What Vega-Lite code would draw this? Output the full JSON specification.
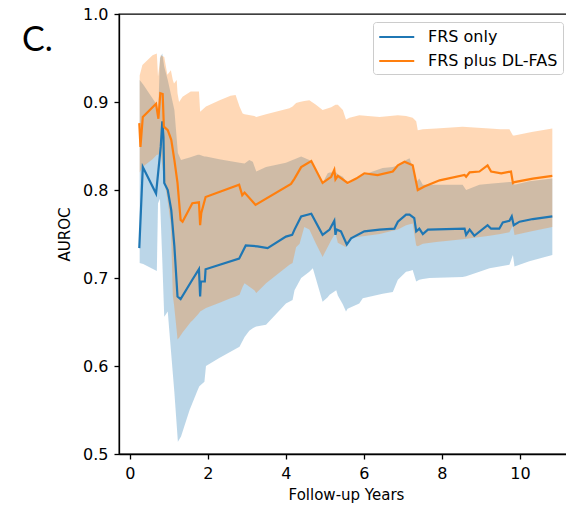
{
  "$schema": "https://vega.github.io/schema/vega-lite/v6.json",
  "width": 454,
  "height": 440,
  "autosize": {"type": "none"},
  "padding": {"left": 119, "top": 14, "right": 0, "bottom": 55},
  "background": "white",
  "config": {
    "font": "DejaVu Sans",
    "view": {"stroke": "black", "strokeWidth": 1.3},
    "axis": {
      "grid": false,
      "domainColor": "black",
      "domainWidth": 1.3,
      "tickColor": "black",
      "tickWidth": 1.3,
      "tickSize": 5,
      "labelColor": "black",
      "titleColor": "black",
      "labelFontSize": 16,
      "titleFontSize": 15,
      "titleFontWeight": "normal"
    }
  },
  "title": {
    "text": "C.",
    "anchor": "start",
    "frame": "group",
    "font": "Lato",
    "fontSize": 34,
    "fontWeight": "normal",
    "color": "black",
    "dx": -97,
    "dy": 52,
    "offset": 0
  },
  "resolve": {"legend": {"color": "independent"}},
  "datasets": {
    "bands": [
      {"s": "FRS only", "x": 0.25, "lo": 0.717, "hi": 0.925},
      {"s": "FRS only", "x": 0.34, "lo": 0.716, "hi": 0.92},
      {"s": "FRS only", "x": 0.69, "lo": 0.708, "hi": 0.897},
      {"s": "FRS only", "x": 0.72, "lo": 0.785, "hi": 0.88},
      {"s": "FRS only", "x": 0.77, "lo": 0.79, "hi": 0.95},
      {"s": "FRS only", "x": 0.83, "lo": 0.72, "hi": 0.955},
      {"s": "FRS only", "x": 0.88, "lo": 0.656, "hi": 0.94},
      {"s": "FRS only", "x": 0.97, "lo": 0.662, "hi": 0.925},
      {"s": "FRS only", "x": 1.01, "lo": 0.64, "hi": 0.917},
      {"s": "FRS only", "x": 1.14, "lo": 0.57, "hi": 0.891},
      {"s": "FRS only", "x": 1.23, "lo": 0.514, "hi": 0.842},
      {"s": "FRS only", "x": 1.31, "lo": 0.52, "hi": 0.834},
      {"s": "FRS only", "x": 1.53, "lo": 0.55, "hi": 0.837},
      {"s": "FRS only", "x": 1.74, "lo": 0.573, "hi": 0.84},
      {"s": "FRS only", "x": 1.78, "lo": 0.577, "hi": 0.84},
      {"s": "FRS only", "x": 1.91, "lo": 0.582, "hi": 0.838},
      {"s": "FRS only", "x": 1.95, "lo": 0.6, "hi": 0.838},
      {"s": "FRS only", "x": 2.29, "lo": 0.609, "hi": 0.835},
      {"s": "FRS only", "x": 2.81, "lo": 0.622, "hi": 0.831},
      {"s": "FRS only", "x": 2.94, "lo": 0.633, "hi": 0.83},
      {"s": "FRS only", "x": 3.06, "lo": 0.64, "hi": 0.834},
      {"s": "FRS only", "x": 3.15, "lo": 0.643, "hi": 0.832},
      {"s": "FRS only", "x": 3.24, "lo": 0.645, "hi": 0.821},
      {"s": "FRS only", "x": 3.49, "lo": 0.647, "hi": 0.826},
      {"s": "FRS only", "x": 4.0, "lo": 0.671, "hi": 0.831},
      {"s": "FRS only", "x": 4.17, "lo": 0.675, "hi": 0.834},
      {"s": "FRS only", "x": 4.22, "lo": 0.686, "hi": 0.835},
      {"s": "FRS only", "x": 4.39, "lo": 0.7, "hi": 0.838},
      {"s": "FRS only", "x": 4.6, "lo": 0.707, "hi": 0.834},
      {"s": "FRS only", "x": 4.69, "lo": 0.711, "hi": 0.83},
      {"s": "FRS only", "x": 4.94, "lo": 0.673, "hi": 0.808},
      {"s": "FRS only", "x": 5.07, "lo": 0.678, "hi": 0.819},
      {"s": "FRS only", "x": 5.12, "lo": 0.681, "hi": 0.82},
      {"s": "FRS only", "x": 5.29, "lo": 0.686, "hi": 0.82},
      {"s": "FRS only", "x": 5.33, "lo": 0.68, "hi": 0.818},
      {"s": "FRS only", "x": 5.46, "lo": 0.67, "hi": 0.815},
      {"s": "FRS only", "x": 5.54, "lo": 0.662, "hi": 0.81},
      {"s": "FRS only", "x": 5.58, "lo": 0.665, "hi": 0.806},
      {"s": "FRS only", "x": 5.88, "lo": 0.671, "hi": 0.815},
      {"s": "FRS only", "x": 5.97, "lo": 0.677, "hi": 0.817},
      {"s": "FRS only", "x": 6.48, "lo": 0.682, "hi": 0.825},
      {"s": "FRS only", "x": 6.74, "lo": 0.684, "hi": 0.826},
      {"s": "FRS only", "x": 6.87, "lo": 0.698, "hi": 0.828},
      {"s": "FRS only", "x": 7.08, "lo": 0.707, "hi": 0.834},
      {"s": "FRS only", "x": 7.17, "lo": 0.708, "hi": 0.836},
      {"s": "FRS only", "x": 7.25, "lo": 0.709, "hi": 0.826},
      {"s": "FRS only", "x": 7.34, "lo": 0.696, "hi": 0.809},
      {"s": "FRS only", "x": 7.42, "lo": 0.698, "hi": 0.813},
      {"s": "FRS only", "x": 7.51, "lo": 0.699, "hi": 0.806},
      {"s": "FRS only", "x": 7.68, "lo": 0.7, "hi": 0.806},
      {"s": "FRS only", "x": 8.53, "lo": 0.701, "hi": 0.806},
      {"s": "FRS only", "x": 8.62, "lo": 0.702, "hi": 0.8},
      {"s": "FRS only", "x": 8.96, "lo": 0.707, "hi": 0.806},
      {"s": "FRS only", "x": 9.22, "lo": 0.711, "hi": 0.807},
      {"s": "FRS only", "x": 9.73, "lo": 0.715, "hi": 0.809},
      {"s": "FRS only", "x": 9.82, "lo": 0.726, "hi": 0.809},
      {"s": "FRS only", "x": 9.86, "lo": 0.713, "hi": 0.806},
      {"s": "FRS only", "x": 10.24, "lo": 0.719, "hi": 0.81},
      {"s": "FRS only", "x": 10.83, "lo": 0.726, "hi": 0.813},
      {"s": "FRS plus DL-FAS", "x": 0.25, "lo": 0.82, "hi": 0.93},
      {"s": "FRS plus DL-FAS", "x": 0.32, "lo": 0.826, "hi": 0.942},
      {"s": "FRS plus DL-FAS", "x": 0.58, "lo": 0.835, "hi": 0.953},
      {"s": "FRS plus DL-FAS", "x": 0.69, "lo": 0.84, "hi": 0.955},
      {"s": "FRS plus DL-FAS", "x": 0.72, "lo": 0.84, "hi": 0.929},
      {"s": "FRS plus DL-FAS", "x": 0.79, "lo": 0.842, "hi": 0.953},
      {"s": "FRS plus DL-FAS", "x": 0.88, "lo": 0.81, "hi": 0.951},
      {"s": "FRS plus DL-FAS", "x": 0.96, "lo": 0.79, "hi": 0.931},
      {"s": "FRS plus DL-FAS", "x": 1.05, "lo": 0.76, "hi": 0.936},
      {"s": "FRS plus DL-FAS", "x": 1.1, "lo": 0.68, "hi": 0.925},
      {"s": "FRS plus DL-FAS", "x": 1.13, "lo": 0.67, "hi": 0.921},
      {"s": "FRS plus DL-FAS", "x": 1.2, "lo": 0.64, "hi": 0.925},
      {"s": "FRS plus DL-FAS", "x": 1.22, "lo": 0.63, "hi": 0.91},
      {"s": "FRS plus DL-FAS", "x": 1.26, "lo": 0.632, "hi": 0.9},
      {"s": "FRS plus DL-FAS", "x": 1.35, "lo": 0.638, "hi": 0.906},
      {"s": "FRS plus DL-FAS", "x": 1.56, "lo": 0.65, "hi": 0.912},
      {"s": "FRS plus DL-FAS", "x": 1.61, "lo": 0.652, "hi": 0.912},
      {"s": "FRS plus DL-FAS", "x": 1.77, "lo": 0.66, "hi": 0.912},
      {"s": "FRS plus DL-FAS", "x": 1.8, "lo": 0.662, "hi": 0.889},
      {"s": "FRS plus DL-FAS", "x": 1.95, "lo": 0.666, "hi": 0.895},
      {"s": "FRS plus DL-FAS", "x": 2.3, "lo": 0.672, "hi": 0.902},
      {"s": "FRS plus DL-FAS", "x": 2.58, "lo": 0.677, "hi": 0.907},
      {"s": "FRS plus DL-FAS", "x": 2.71, "lo": 0.679, "hi": 0.908},
      {"s": "FRS plus DL-FAS", "x": 2.81, "lo": 0.681, "hi": 0.895},
      {"s": "FRS plus DL-FAS", "x": 2.89, "lo": 0.69, "hi": 0.887},
      {"s": "FRS plus DL-FAS", "x": 2.94, "lo": 0.694, "hi": 0.886},
      {"s": "FRS plus DL-FAS", "x": 3.19, "lo": 0.686, "hi": 0.884},
      {"s": "FRS plus DL-FAS", "x": 3.24, "lo": 0.683, "hi": 0.883},
      {"s": "FRS plus DL-FAS", "x": 3.49, "lo": 0.694, "hi": 0.886},
      {"s": "FRS plus DL-FAS", "x": 4.09, "lo": 0.715, "hi": 0.893},
      {"s": "FRS plus DL-FAS", "x": 4.17, "lo": 0.717, "hi": 0.895},
      {"s": "FRS plus DL-FAS", "x": 4.26, "lo": 0.735, "hi": 0.899},
      {"s": "FRS plus DL-FAS", "x": 4.35, "lo": 0.739, "hi": 0.9},
      {"s": "FRS plus DL-FAS", "x": 4.47, "lo": 0.758, "hi": 0.901},
      {"s": "FRS plus DL-FAS", "x": 4.6, "lo": 0.755, "hi": 0.902},
      {"s": "FRS plus DL-FAS", "x": 4.77, "lo": 0.739, "hi": 0.897},
      {"s": "FRS plus DL-FAS", "x": 4.94, "lo": 0.724, "hi": 0.891},
      {"s": "FRS plus DL-FAS", "x": 5.16, "lo": 0.743, "hi": 0.894},
      {"s": "FRS plus DL-FAS", "x": 5.27, "lo": 0.751, "hi": 0.897},
      {"s": "FRS plus DL-FAS", "x": 5.33, "lo": 0.74, "hi": 0.897},
      {"s": "FRS plus DL-FAS", "x": 5.46, "lo": 0.737, "hi": 0.891},
      {"s": "FRS plus DL-FAS", "x": 5.54, "lo": 0.735, "hi": 0.88},
      {"s": "FRS plus DL-FAS", "x": 5.63, "lo": 0.745, "hi": 0.882},
      {"s": "FRS plus DL-FAS", "x": 5.88, "lo": 0.747, "hi": 0.885},
      {"s": "FRS plus DL-FAS", "x": 6.4, "lo": 0.75, "hi": 0.883},
      {"s": "FRS plus DL-FAS", "x": 6.87, "lo": 0.755, "hi": 0.885},
      {"s": "FRS plus DL-FAS", "x": 7.08, "lo": 0.76, "hi": 0.884},
      {"s": "FRS plus DL-FAS", "x": 7.25, "lo": 0.762, "hi": 0.882},
      {"s": "FRS plus DL-FAS", "x": 7.34, "lo": 0.737, "hi": 0.878},
      {"s": "FRS plus DL-FAS", "x": 7.38, "lo": 0.736, "hi": 0.868},
      {"s": "FRS plus DL-FAS", "x": 7.51, "lo": 0.739, "hi": 0.869},
      {"s": "FRS plus DL-FAS", "x": 7.85, "lo": 0.741, "hi": 0.87},
      {"s": "FRS plus DL-FAS", "x": 8.53, "lo": 0.744, "hi": 0.872},
      {"s": "FRS plus DL-FAS", "x": 9.22, "lo": 0.748, "hi": 0.87},
      {"s": "FRS plus DL-FAS", "x": 9.5, "lo": 0.75, "hi": 0.869},
      {"s": "FRS plus DL-FAS", "x": 9.73, "lo": 0.752, "hi": 0.869},
      {"s": "FRS plus DL-FAS", "x": 9.82, "lo": 0.76, "hi": 0.862},
      {"s": "FRS plus DL-FAS", "x": 9.86, "lo": 0.749, "hi": 0.862},
      {"s": "FRS plus DL-FAS", "x": 10.3, "lo": 0.753, "hi": 0.866},
      {"s": "FRS plus DL-FAS", "x": 10.83, "lo": 0.758, "hi": 0.87}
    ],
    "lines": [
      {"s": "FRS only", "x": 0.24, "y": 0.734},
      {"s": "FRS only", "x": 0.33, "y": 0.826},
      {"s": "FRS only", "x": 0.67, "y": 0.796},
      {"s": "FRS only", "x": 0.79, "y": 0.849},
      {"s": "FRS only", "x": 0.83, "y": 0.878},
      {"s": "FRS only", "x": 0.86, "y": 0.86},
      {"s": "FRS only", "x": 0.88, "y": 0.808},
      {"s": "FRS only", "x": 0.97, "y": 0.8},
      {"s": "FRS only", "x": 1.06, "y": 0.777},
      {"s": "FRS only", "x": 1.14, "y": 0.736},
      {"s": "FRS only", "x": 1.22, "y": 0.679},
      {"s": "FRS only", "x": 1.3, "y": 0.676},
      {"s": "FRS only", "x": 1.6, "y": 0.698},
      {"s": "FRS only", "x": 1.77, "y": 0.71},
      {"s": "FRS only", "x": 1.8, "y": 0.679},
      {"s": "FRS only", "x": 1.82, "y": 0.696},
      {"s": "FRS only", "x": 1.92, "y": 0.696},
      {"s": "FRS only", "x": 1.94, "y": 0.71},
      {"s": "FRS only", "x": 2.8, "y": 0.722},
      {"s": "FRS only", "x": 2.97, "y": 0.737},
      {"s": "FRS only", "x": 3.27, "y": 0.736},
      {"s": "FRS only", "x": 3.53, "y": 0.734},
      {"s": "FRS only", "x": 4.0, "y": 0.747},
      {"s": "FRS only", "x": 4.16, "y": 0.749},
      {"s": "FRS only", "x": 4.22, "y": 0.755},
      {"s": "FRS only", "x": 4.39, "y": 0.77},
      {"s": "FRS only", "x": 4.65, "y": 0.773},
      {"s": "FRS only", "x": 4.94, "y": 0.749},
      {"s": "FRS only", "x": 5.12, "y": 0.755},
      {"s": "FRS only", "x": 5.24, "y": 0.765},
      {"s": "FRS only", "x": 5.27, "y": 0.749},
      {"s": "FRS only", "x": 5.3, "y": 0.755},
      {"s": "FRS only", "x": 5.41, "y": 0.753},
      {"s": "FRS only", "x": 5.56, "y": 0.738},
      {"s": "FRS only", "x": 5.67, "y": 0.745},
      {"s": "FRS only", "x": 6.01, "y": 0.753},
      {"s": "FRS only", "x": 6.4, "y": 0.755},
      {"s": "FRS only", "x": 6.78, "y": 0.756},
      {"s": "FRS only", "x": 6.87, "y": 0.764},
      {"s": "FRS only", "x": 7.08, "y": 0.772},
      {"s": "FRS only", "x": 7.17, "y": 0.772},
      {"s": "FRS only", "x": 7.29, "y": 0.768},
      {"s": "FRS only", "x": 7.34, "y": 0.753},
      {"s": "FRS only", "x": 7.42, "y": 0.756},
      {"s": "FRS only", "x": 7.51, "y": 0.75},
      {"s": "FRS only", "x": 7.64, "y": 0.755},
      {"s": "FRS only", "x": 8.58, "y": 0.756},
      {"s": "FRS only", "x": 8.62, "y": 0.749},
      {"s": "FRS only", "x": 8.71, "y": 0.755},
      {"s": "FRS only", "x": 8.83, "y": 0.748},
      {"s": "FRS only", "x": 9.17, "y": 0.76},
      {"s": "FRS only", "x": 9.26, "y": 0.756},
      {"s": "FRS only", "x": 9.47, "y": 0.756},
      {"s": "FRS only", "x": 9.56, "y": 0.763},
      {"s": "FRS only", "x": 9.73, "y": 0.765},
      {"s": "FRS only", "x": 9.79, "y": 0.77},
      {"s": "FRS only", "x": 9.84, "y": 0.76},
      {"s": "FRS only", "x": 9.99, "y": 0.764},
      {"s": "FRS only", "x": 10.33, "y": 0.767},
      {"s": "FRS only", "x": 10.83, "y": 0.77},
      {"s": "FRS plus DL-FAS", "x": 0.24, "y": 0.876},
      {"s": "FRS plus DL-FAS", "x": 0.27, "y": 0.849},
      {"s": "FRS plus DL-FAS", "x": 0.33, "y": 0.883},
      {"s": "FRS plus DL-FAS", "x": 0.67, "y": 0.898},
      {"s": "FRS plus DL-FAS", "x": 0.73, "y": 0.881},
      {"s": "FRS plus DL-FAS", "x": 0.78, "y": 0.91},
      {"s": "FRS plus DL-FAS", "x": 0.84, "y": 0.909},
      {"s": "FRS plus DL-FAS", "x": 0.87, "y": 0.872},
      {"s": "FRS plus DL-FAS", "x": 0.97, "y": 0.868},
      {"s": "FRS plus DL-FAS", "x": 1.06, "y": 0.857},
      {"s": "FRS plus DL-FAS", "x": 1.14, "y": 0.834},
      {"s": "FRS plus DL-FAS", "x": 1.22, "y": 0.808},
      {"s": "FRS plus DL-FAS", "x": 1.3, "y": 0.766},
      {"s": "FRS plus DL-FAS", "x": 1.35, "y": 0.764},
      {"s": "FRS plus DL-FAS", "x": 1.6, "y": 0.785},
      {"s": "FRS plus DL-FAS", "x": 1.77, "y": 0.786},
      {"s": "FRS plus DL-FAS", "x": 1.8, "y": 0.76},
      {"s": "FRS plus DL-FAS", "x": 1.83, "y": 0.774},
      {"s": "FRS plus DL-FAS", "x": 1.94, "y": 0.792},
      {"s": "FRS plus DL-FAS", "x": 2.8, "y": 0.806},
      {"s": "FRS plus DL-FAS", "x": 2.88, "y": 0.794},
      {"s": "FRS plus DL-FAS", "x": 2.94, "y": 0.797},
      {"s": "FRS plus DL-FAS", "x": 3.22, "y": 0.783},
      {"s": "FRS plus DL-FAS", "x": 4.13, "y": 0.807},
      {"s": "FRS plus DL-FAS", "x": 4.22, "y": 0.813},
      {"s": "FRS plus DL-FAS", "x": 4.39, "y": 0.826},
      {"s": "FRS plus DL-FAS", "x": 4.65, "y": 0.833},
      {"s": "FRS plus DL-FAS", "x": 4.94, "y": 0.808},
      {"s": "FRS plus DL-FAS", "x": 5.16, "y": 0.815},
      {"s": "FRS plus DL-FAS", "x": 5.24, "y": 0.823},
      {"s": "FRS plus DL-FAS", "x": 5.27, "y": 0.812},
      {"s": "FRS plus DL-FAS", "x": 5.33, "y": 0.816},
      {"s": "FRS plus DL-FAS", "x": 5.58, "y": 0.808},
      {"s": "FRS plus DL-FAS", "x": 5.8, "y": 0.813},
      {"s": "FRS plus DL-FAS", "x": 6.01, "y": 0.819},
      {"s": "FRS plus DL-FAS", "x": 6.35, "y": 0.817},
      {"s": "FRS plus DL-FAS", "x": 6.74, "y": 0.821},
      {"s": "FRS plus DL-FAS", "x": 6.87, "y": 0.828},
      {"s": "FRS plus DL-FAS", "x": 7.04, "y": 0.832},
      {"s": "FRS plus DL-FAS", "x": 7.25, "y": 0.828},
      {"s": "FRS plus DL-FAS", "x": 7.38, "y": 0.8},
      {"s": "FRS plus DL-FAS", "x": 7.55, "y": 0.804},
      {"s": "FRS plus DL-FAS", "x": 7.94, "y": 0.811},
      {"s": "FRS plus DL-FAS", "x": 8.58, "y": 0.817},
      {"s": "FRS plus DL-FAS", "x": 8.62, "y": 0.815},
      {"s": "FRS plus DL-FAS", "x": 8.71, "y": 0.82},
      {"s": "FRS plus DL-FAS", "x": 8.96, "y": 0.821},
      {"s": "FRS plus DL-FAS", "x": 9.17, "y": 0.828},
      {"s": "FRS plus DL-FAS", "x": 9.26, "y": 0.821},
      {"s": "FRS plus DL-FAS", "x": 9.52, "y": 0.819},
      {"s": "FRS plus DL-FAS", "x": 9.77, "y": 0.821},
      {"s": "FRS plus DL-FAS", "x": 9.82, "y": 0.808},
      {"s": "FRS plus DL-FAS", "x": 9.86, "y": 0.809},
      {"s": "FRS plus DL-FAS", "x": 10.33, "y": 0.813},
      {"s": "FRS plus DL-FAS", "x": 10.83, "y": 0.816}
    ]
  },
  "layer": [
    {
      "data": {"name": "bands"},
      "mark": {"type": "area", "opacity": 0.3, "clip": true},
      "encoding": {
        "x": {"field": "x", "type": "quantitative", "scale": {"domain": [-0.28, 11.36], "nice": false, "zero": false},
              "axis": {"values": [0, 2, 4, 6, 8, 10], "title": "Follow-up Years", "labelPadding": 6, "titlePadding": 6}},
        "y": {"field": "lo", "type": "quantitative", "stack": null, "scale": {"domain": [0.5, 1.0], "nice": false, "zero": false},
              "axis": {"values": [0.5, 0.6, 0.7, 0.8, 0.9, 1.0], "format": ".1f", "title": "AUROC", "labelPadding": 6, "titlePadding": 10}},
        "y2": {"field": "hi"},
        "color": {"field": "s", "type": "nominal", "scale": {"domain": ["FRS only", "FRS plus DL-FAS"], "range": ["#1f77b4", "#ff7f0e"]}, "legend": null}
      }
    },
    {
      "data": {"name": "lines"},
      "mark": {"type": "line", "strokeWidth": 2.2, "clip": true},
      "encoding": {
        "x": {"field": "x", "type": "quantitative"},
        "y": {"field": "y", "type": "quantitative"},
        "color": {
          "field": "s", "type": "nominal",
          "legend": {
            "orient": "none", "legendX": 254, "legendY": 8, "title": null,
            "symbolType": "M-1,0H3", "symbolSize": 306, "symbolStrokeWidth": 2,
            "labelFontSize": 16, "labelColor": "black", "labelOffset": 30,
            "padding": 5, "rowPadding": 6,
            "strokeColor": "#cccccc", "fillColor": "white", "cornerRadius": 3
          }
        }
      }
    }
  ]
}
